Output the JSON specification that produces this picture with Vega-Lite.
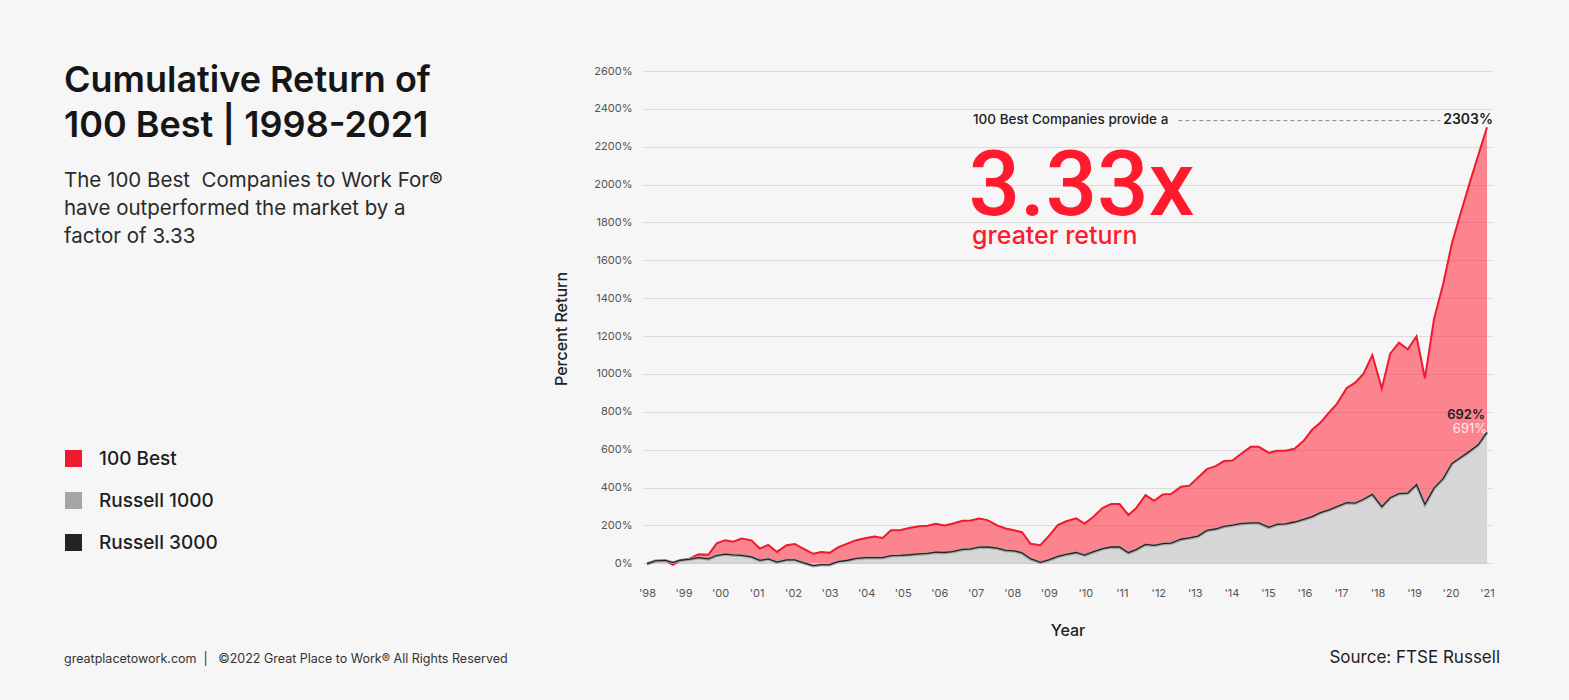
{
  "$schema": "https://vega.github.io/schema/vega-lite/v6.json",
  "width": 851,
  "height": 515,
  "autosize": {"type": "none"},
  "padding": {"left": 642, "top": 71, "right": 76, "bottom": 114},
  "background": "#f6f6f6",
  "config": {
    "view": {"stroke": null},
    "font": "Inter",
    "axis": {
      "domain": false, "ticks": false, "labelOverlap": false,
      "labelFont": "Inter", "labelFontSize": 11, "labelColor": "#555555",
      "titleFont": "Inter", "titleFontSize": 16, "titleFontWeight": 500, "titleColor": "#222222", "titlePadding": 24,
      "gridColor": "#dcdcdc", "gridWidth": 1
    },
    "axisX": {"grid": false, "labelPadding": 1},
    "axisY": {"grid": true, "labelPadding": 10}
  },
  "datasets": {
    "best": [
      {"year": 1998.00, "pct": 0}, {"year": 1998.23, "pct": 13}, {"year": 1998.50, "pct": 14}, {"year": 1998.71, "pct": -8},
      {"year": 1998.91, "pct": 14}, {"year": 1999.18, "pct": 26}, {"year": 1999.41, "pct": 47}, {"year": 1999.68, "pct": 45},
      {"year": 1999.91, "pct": 105}, {"year": 2000.14, "pct": 122}, {"year": 2000.36, "pct": 114}, {"year": 2000.59, "pct": 131},
      {"year": 2000.86, "pct": 121}, {"year": 2001.09, "pct": 78}, {"year": 2001.32, "pct": 97}, {"year": 2001.56, "pct": 60},
      {"year": 2001.82, "pct": 95}, {"year": 2002.05, "pct": 102}, {"year": 2002.27, "pct": 78}, {"year": 2002.55, "pct": 50},
      {"year": 2002.77, "pct": 60}, {"year": 2003.00, "pct": 55}, {"year": 2003.23, "pct": 84}, {"year": 2003.50, "pct": 105},
      {"year": 2003.73, "pct": 122}, {"year": 2004.00, "pct": 133}, {"year": 2004.23, "pct": 141}, {"year": 2004.45, "pct": 134},
      {"year": 2004.68, "pct": 174}, {"year": 2004.95, "pct": 176}, {"year": 2005.18, "pct": 186}, {"year": 2005.45, "pct": 195},
      {"year": 2005.68, "pct": 198}, {"year": 2005.91, "pct": 209}, {"year": 2006.14, "pct": 200}, {"year": 2006.36, "pct": 209},
      {"year": 2006.64, "pct": 224}, {"year": 2006.86, "pct": 226}, {"year": 2007.09, "pct": 236}, {"year": 2007.32, "pct": 228},
      {"year": 2007.59, "pct": 200}, {"year": 2007.82, "pct": 184}, {"year": 2008.05, "pct": 174}, {"year": 2008.27, "pct": 164},
      {"year": 2008.50, "pct": 103}, {"year": 2008.77, "pct": 95}, {"year": 2009.00, "pct": 143}, {"year": 2009.25, "pct": 202},
      {"year": 2009.48, "pct": 222}, {"year": 2009.75, "pct": 237}, {"year": 2009.98, "pct": 210}, {"year": 2010.21, "pct": 243},
      {"year": 2010.48, "pct": 293}, {"year": 2010.71, "pct": 313}, {"year": 2010.94, "pct": 313}, {"year": 2011.18, "pct": 255},
      {"year": 2011.39, "pct": 290}, {"year": 2011.65, "pct": 360}, {"year": 2011.89, "pct": 330}, {"year": 2012.12, "pct": 364},
      {"year": 2012.35, "pct": 366}, {"year": 2012.62, "pct": 404}, {"year": 2012.85, "pct": 410}, {"year": 2013.09, "pct": 453},
      {"year": 2013.33, "pct": 497}, {"year": 2013.57, "pct": 513}, {"year": 2013.80, "pct": 540}, {"year": 2014.03, "pct": 543},
      {"year": 2014.25, "pct": 576}, {"year": 2014.53, "pct": 615}, {"year": 2014.75, "pct": 615}, {"year": 2015.03, "pct": 583},
      {"year": 2015.25, "pct": 594}, {"year": 2015.48, "pct": 594}, {"year": 2015.73, "pct": 605}, {"year": 2015.98, "pct": 647},
      {"year": 2016.21, "pct": 705}, {"year": 2016.44, "pct": 743}, {"year": 2016.66, "pct": 793}, {"year": 2016.89, "pct": 842},
      {"year": 2017.16, "pct": 926}, {"year": 2017.39, "pct": 954}, {"year": 2017.62, "pct": 1002}, {"year": 2017.86, "pct": 1100},
      {"year": 2018.12, "pct": 923}, {"year": 2018.35, "pct": 1107}, {"year": 2018.59, "pct": 1165}, {"year": 2018.83, "pct": 1130},
      {"year": 2019.07, "pct": 1199}, {"year": 2019.30, "pct": 977}, {"year": 2019.55, "pct": 1290}, {"year": 2019.80, "pct": 1475},
      {"year": 2020.04, "pct": 1690}, {"year": 2020.28, "pct": 1850}, {"year": 2020.52, "pct": 2005}, {"year": 2020.76, "pct": 2155},
      {"year": 2021.00, "pct": 2303}
    ],
    "r1000": [
      {"year": 1998.00, "pct": -4}, {"year": 1998.23, "pct": 12}, {"year": 1998.50, "pct": 14}, {"year": 1998.71, "pct": 3},
      {"year": 1998.91, "pct": 15}, {"year": 1999.18, "pct": 21}, {"year": 1999.41, "pct": 29}, {"year": 1999.68, "pct": 22},
      {"year": 1999.91, "pct": 40}, {"year": 2000.14, "pct": 47}, {"year": 2000.36, "pct": 43}, {"year": 2000.59, "pct": 41},
      {"year": 2000.86, "pct": 33}, {"year": 2001.09, "pct": 14}, {"year": 2001.32, "pct": 22}, {"year": 2001.56, "pct": 5},
      {"year": 2001.82, "pct": 17}, {"year": 2002.05, "pct": 17}, {"year": 2002.27, "pct": 3}, {"year": 2002.55, "pct": -14},
      {"year": 2002.77, "pct": -9}, {"year": 2003.00, "pct": -9}, {"year": 2003.23, "pct": 7}, {"year": 2003.50, "pct": 14},
      {"year": 2003.73, "pct": 24}, {"year": 2004.00, "pct": 28}, {"year": 2004.23, "pct": 28}, {"year": 2004.45, "pct": 28},
      {"year": 2004.68, "pct": 38}, {"year": 2004.95, "pct": 40}, {"year": 2005.18, "pct": 43}, {"year": 2005.45, "pct": 48},
      {"year": 2005.68, "pct": 50}, {"year": 2005.91, "pct": 57}, {"year": 2006.14, "pct": 55}, {"year": 2006.36, "pct": 60},
      {"year": 2006.64, "pct": 71}, {"year": 2006.86, "pct": 74}, {"year": 2007.09, "pct": 83}, {"year": 2007.32, "pct": 84},
      {"year": 2007.59, "pct": 78}, {"year": 2007.82, "pct": 66}, {"year": 2008.05, "pct": 64}, {"year": 2008.27, "pct": 53},
      {"year": 2008.50, "pct": 22}, {"year": 2008.77, "pct": 3}, {"year": 2009.00, "pct": 16}, {"year": 2009.25, "pct": 34},
      {"year": 2009.48, "pct": 45}, {"year": 2009.75, "pct": 55}, {"year": 2009.98, "pct": 41}, {"year": 2010.21, "pct": 58},
      {"year": 2010.48, "pct": 76}, {"year": 2010.71, "pct": 84}, {"year": 2010.94, "pct": 84}, {"year": 2011.18, "pct": 54},
      {"year": 2011.39, "pct": 70}, {"year": 2011.65, "pct": 98}, {"year": 2011.89, "pct": 93}, {"year": 2012.12, "pct": 102},
      {"year": 2012.35, "pct": 104}, {"year": 2012.62, "pct": 125}, {"year": 2012.85, "pct": 132}, {"year": 2013.09, "pct": 142},
      {"year": 2013.33, "pct": 172}, {"year": 2013.57, "pct": 179}, {"year": 2013.80, "pct": 193}, {"year": 2014.03, "pct": 199},
      {"year": 2014.25, "pct": 207}, {"year": 2014.53, "pct": 211}, {"year": 2014.75, "pct": 211}, {"year": 2015.03, "pct": 188},
      {"year": 2015.25, "pct": 204}, {"year": 2015.48, "pct": 206}, {"year": 2015.73, "pct": 216}, {"year": 2015.98, "pct": 230},
      {"year": 2016.21, "pct": 244}, {"year": 2016.44, "pct": 265}, {"year": 2016.66, "pct": 279}, {"year": 2016.89, "pct": 297},
      {"year": 2017.16, "pct": 318}, {"year": 2017.39, "pct": 316}, {"year": 2017.62, "pct": 336}, {"year": 2017.86, "pct": 362},
      {"year": 2018.12, "pct": 297}, {"year": 2018.35, "pct": 344}, {"year": 2018.59, "pct": 366}, {"year": 2018.83, "pct": 369},
      {"year": 2019.07, "pct": 413}, {"year": 2019.30, "pct": 309}, {"year": 2019.55, "pct": 395}, {"year": 2019.80, "pct": 445},
      {"year": 2020.04, "pct": 525}, {"year": 2020.28, "pct": 557}, {"year": 2020.52, "pct": 589}, {"year": 2020.76, "pct": 624},
      {"year": 2021.00, "pct": 691}
    ],
    "r3000": [
      {"year": 1998.00, "pct": -3}, {"year": 1998.23, "pct": 13}, {"year": 1998.50, "pct": 15}, {"year": 1998.71, "pct": 4},
      {"year": 1998.91, "pct": 16}, {"year": 1999.18, "pct": 22}, {"year": 1999.41, "pct": 30}, {"year": 1999.68, "pct": 23},
      {"year": 1999.91, "pct": 41}, {"year": 2000.14, "pct": 48}, {"year": 2000.36, "pct": 44}, {"year": 2000.59, "pct": 42},
      {"year": 2000.86, "pct": 34}, {"year": 2001.09, "pct": 15}, {"year": 2001.32, "pct": 23}, {"year": 2001.56, "pct": 6},
      {"year": 2001.82, "pct": 18}, {"year": 2002.05, "pct": 18}, {"year": 2002.27, "pct": 4}, {"year": 2002.55, "pct": -12},
      {"year": 2002.77, "pct": -7}, {"year": 2003.00, "pct": -7}, {"year": 2003.23, "pct": 9}, {"year": 2003.50, "pct": 16},
      {"year": 2003.73, "pct": 26}, {"year": 2004.00, "pct": 30}, {"year": 2004.23, "pct": 30}, {"year": 2004.45, "pct": 30},
      {"year": 2004.68, "pct": 40}, {"year": 2004.95, "pct": 42}, {"year": 2005.18, "pct": 45}, {"year": 2005.45, "pct": 50},
      {"year": 2005.68, "pct": 52}, {"year": 2005.91, "pct": 59}, {"year": 2006.14, "pct": 57}, {"year": 2006.36, "pct": 62},
      {"year": 2006.64, "pct": 73}, {"year": 2006.86, "pct": 76}, {"year": 2007.09, "pct": 85}, {"year": 2007.32, "pct": 86},
      {"year": 2007.59, "pct": 80}, {"year": 2007.82, "pct": 68}, {"year": 2008.05, "pct": 66}, {"year": 2008.27, "pct": 55},
      {"year": 2008.50, "pct": 24}, {"year": 2008.77, "pct": 5}, {"year": 2009.00, "pct": 18}, {"year": 2009.25, "pct": 36},
      {"year": 2009.48, "pct": 47}, {"year": 2009.75, "pct": 57}, {"year": 2009.98, "pct": 43}, {"year": 2010.21, "pct": 60},
      {"year": 2010.48, "pct": 78}, {"year": 2010.71, "pct": 86}, {"year": 2010.94, "pct": 86}, {"year": 2011.18, "pct": 56},
      {"year": 2011.39, "pct": 72}, {"year": 2011.65, "pct": 100}, {"year": 2011.89, "pct": 95}, {"year": 2012.12, "pct": 104},
      {"year": 2012.35, "pct": 106}, {"year": 2012.62, "pct": 127}, {"year": 2012.85, "pct": 134}, {"year": 2013.09, "pct": 144},
      {"year": 2013.33, "pct": 174}, {"year": 2013.57, "pct": 181}, {"year": 2013.80, "pct": 195}, {"year": 2014.03, "pct": 201},
      {"year": 2014.25, "pct": 209}, {"year": 2014.53, "pct": 213}, {"year": 2014.75, "pct": 213}, {"year": 2015.03, "pct": 190},
      {"year": 2015.25, "pct": 206}, {"year": 2015.48, "pct": 208}, {"year": 2015.73, "pct": 218}, {"year": 2015.98, "pct": 232},
      {"year": 2016.21, "pct": 246}, {"year": 2016.44, "pct": 267}, {"year": 2016.66, "pct": 281}, {"year": 2016.89, "pct": 299},
      {"year": 2017.16, "pct": 320}, {"year": 2017.39, "pct": 318}, {"year": 2017.62, "pct": 338}, {"year": 2017.86, "pct": 364},
      {"year": 2018.12, "pct": 299}, {"year": 2018.35, "pct": 346}, {"year": 2018.59, "pct": 368}, {"year": 2018.83, "pct": 371},
      {"year": 2019.07, "pct": 415}, {"year": 2019.30, "pct": 311}, {"year": 2019.55, "pct": 397}, {"year": 2019.80, "pct": 447},
      {"year": 2020.04, "pct": 527}, {"year": 2020.28, "pct": 559}, {"year": 2020.52, "pct": 591}, {"year": 2020.76, "pct": 626},
      {"year": 2021.00, "pct": 692}
    ]
  },
  "layer": [
    {
      "data": {"name": "best"},
      "mark": {"type": "area", "color": "#ff2739", "fillOpacity": 0.55},
      "encoding": {
        "x": {"field": "year", "type": "quantitative", "scale": {"domain": [1997.863, 2021.164], "nice": false, "zero": false},
          "axis": {"values": [1998, 1999, 2000, 2001, 2002, 2003, 2004, 2005, 2006, 2007, 2008, 2009, 2010, 2011, 2012, 2013, 2014, 2015, 2016, 2017, 2018, 2019, 2020, 2021], "labelExpr": "\"'\" + substring(toString(datum.value), 2)", "title": "Year"}},
        "y": {"field": "pct", "type": "quantitative", "scale": {"domain": [-120, 2600], "nice": false, "zero": false},
          "axis": {"values": [0, 200, 400, 600, 800, 1000, 1200, 1400, 1600, 1800, 2000, 2200, 2400, 2600], "labelExpr": "datum.value + '%'", "title": "Percent Return"}},
        "y2": {"datum": 0}
      }
    },
    {
      "data": {"name": "r1000"},
      "mark": {"type": "area", "color": "#d6d6d6"},
      "encoding": {
        "x": {"field": "year", "type": "quantitative",
          "axis": {"values": [1998, 1999, 2000, 2001, 2002, 2003, 2004, 2005, 2006, 2007, 2008, 2009, 2010, 2011, 2012, 2013, 2014, 2015, 2016, 2017, 2018, 2019, 2020, 2021], "labelExpr": "\"'\" + substring(toString(datum.value), 2)", "title": "Year"}},
        "y": {"field": "pct", "type": "quantitative",
          "axis": {"values": [0, 200, 400, 600, 800, 1000, 1200, 1400, 1600, 1800, 2000, 2200, 2400, 2600], "labelExpr": "datum.value + '%'", "title": "Percent Return"}},
        "y2": {"datum": 0}
      }
    },
    {
      "data": {"name": "best"},
      "mark": {"type": "line", "strokeWidth": 2},
      "encoding": {
        "x": {"field": "year", "type": "quantitative",
          "axis": {"values": [1998, 1999, 2000, 2001, 2002, 2003, 2004, 2005, 2006, 2007, 2008, 2009, 2010, 2011, 2012, 2013, 2014, 2015, 2016, 2017, 2018, 2019, 2020, 2021], "labelExpr": "\"'\" + substring(toString(datum.value), 2)", "title": "Year"}},
        "y": {"field": "pct", "type": "quantitative",
          "axis": {"values": [0, 200, 400, 600, 800, 1000, 1200, 1400, 1600, 1800, 2000, 2200, 2400, 2600], "labelExpr": "datum.value + '%'", "title": "Percent Return"}},
        "color": {
          "datum": "100 Best",
          "scale": {"domain": ["100 Best", "Russell 1000", "Russell 3000"], "range": ["#ef1a2d", "#a5a5a5", "#242424"]},
          "legend": {
            "title": null, "orient": "none", "legendX": -578, "legendY": 378, "padding": 0,
            "symbolType": "square", "symbolSize": 289, "symbolStrokeWidth": 0,
            "labelFont": "Inter", "labelFontSize": 19, "labelFontWeight": 500, "labelColor": "#1e1e1e",
            "labelOffset": 16, "rowPadding": 22,
            "encode": {"symbols": {"update": {"fill": {"scale": "color", "field": "value"}, "fillOpacity": {"value": 1}, "opacity": {"value": 1}}}}
          }
        }
      }
    },
    {
      "data": {"name": "r1000"},
      "mark": {"type": "line", "strokeWidth": 3},
      "encoding": {
        "x": {"field": "year", "type": "quantitative",
          "axis": {"values": [1998, 1999, 2000, 2001, 2002, 2003, 2004, 2005, 2006, 2007, 2008, 2009, 2010, 2011, 2012, 2013, 2014, 2015, 2016, 2017, 2018, 2019, 2020, 2021], "labelExpr": "\"'\" + substring(toString(datum.value), 2)", "title": "Year"}},
        "y": {"field": "pct", "type": "quantitative",
          "axis": {"values": [0, 200, 400, 600, 800, 1000, 1200, 1400, 1600, 1800, 2000, 2200, 2400, 2600], "labelExpr": "datum.value + '%'", "title": "Percent Return"}},
        "color": {"datum": "Russell 1000"}
      }
    },
    {
      "data": {"name": "r3000"},
      "mark": {"type": "line", "strokeWidth": 1.3},
      "encoding": {
        "x": {"field": "year", "type": "quantitative",
          "axis": {"values": [1998, 1999, 2000, 2001, 2002, 2003, 2004, 2005, 2006, 2007, 2008, 2009, 2010, 2011, 2012, 2013, 2014, 2015, 2016, 2017, 2018, 2019, 2020, 2021], "labelExpr": "\"'\" + substring(toString(datum.value), 2)", "title": "Year"}},
        "y": {"field": "pct", "type": "quantitative",
          "axis": {"values": [0, 200, 400, 600, 800, 1000, 1200, 1400, 1600, 1800, 2000, 2200, 2400, 2600], "labelExpr": "datum.value + '%'", "title": "Percent Return"}},
        "color": {"datum": "Russell 3000"}
      }
    },
    {
      "data": {"values": [{}]},
      "mark": {"type": "text", "align": "left", "baseline": "alphabetic", "font": "Inter", "fontSize": 36, "fontWeight": 600, "color": "#161616", "lineHeight": 45},
      "encoding": {
        "x": {"datum": 1982.037, "type": "quantitative", "axis": {"values": [1998, 1999, 2000, 2001, 2002, 2003, 2004, 2005, 2006, 2007, 2008, 2009, 2010, 2011, 2012, 2013, 2014, 2015, 2016, 2017, 2018, 2019, 2020, 2021], "labelExpr": "\"'\" + substring(toString(datum.value), 2)", "title": "Year"}},
        "y": {"datum": 2490, "type": "quantitative", "axis": {"values": [0, 200, 400, 600, 800, 1000, 1200, 1400, 1600, 1800, 2000, 2200, 2400, 2600], "labelExpr": "datum.value + '%'", "title": "Percent Return"}},
        "text": {"value": ["Cumulative Return of", "100 Best | 1998-2021"]}
      }
    },
    {
      "data": {"values": [{}]},
      "mark": {"type": "text", "align": "left", "baseline": "alphabetic", "font": "Inter", "fontSize": 20.5, "fontWeight": 400, "color": "#2a2a2a", "lineHeight": 28},
      "encoding": {
        "x": {"datum": 1982.037, "type": "quantitative", "axis": {"values": [1998, 1999, 2000, 2001, 2002, 2003, 2004, 2005, 2006, 2007, 2008, 2009, 2010, 2011, 2012, 2013, 2014, 2015, 2016, 2017, 2018, 2019, 2020, 2021], "labelExpr": "\"'\" + substring(toString(datum.value), 2)", "title": "Year"}},
        "y": {"datum": 1988, "type": "quantitative", "axis": {"values": [0, 200, 400, 600, 800, 1000, 1200, 1400, 1600, 1800, 2000, 2200, 2400, 2600], "labelExpr": "datum.value + '%'", "title": "Percent Return"}},
        "text": {"value": ["The 100 Best\u00a0 Companies to Work For®", "have outperformed the market by a", "factor of 3.33"]}
      }
    },
    {
      "data": {"values": [{}]},
      "mark": {"type": "text", "align": "left", "baseline": "alphabetic", "font": "Inter", "fontSize": 12.5, "fontWeight": 400, "color": "#333333"},
      "encoding": {
        "x": {"datum": 1982.037, "type": "quantitative", "axis": {"values": [1998, 1999, 2000, 2001, 2002, 2003, 2004, 2005, 2006, 2007, 2008, 2009, 2010, 2011, 2012, 2013, 2014, 2015, 2016, 2017, 2018, 2019, 2020, 2021], "labelExpr": "\"'\" + substring(toString(datum.value), 2)", "title": "Year"}},
        "y": {"datum": -525, "type": "quantitative", "axis": {"values": [0, 200, 400, 600, 800, 1000, 1200, 1400, 1600, 1800, 2000, 2200, 2400, 2600], "labelExpr": "datum.value + '%'", "title": "Percent Return"}},
        "text": {"value": "greatplacetowork.com\u00a0 |\u00a0\u00a0 ©2022 Great Place to Work® All Rights Reserved"}
      }
    },
    {
      "data": {"values": [{}]},
      "mark": {"type": "text", "align": "right", "baseline": "alphabetic", "font": "Inter", "fontSize": 17, "fontWeight": 400, "color": "#1e1e1e"},
      "encoding": {
        "x": {"datum": 2021.356, "type": "quantitative", "axis": {"values": [1998, 1999, 2000, 2001, 2002, 2003, 2004, 2005, 2006, 2007, 2008, 2009, 2010, 2011, 2012, 2013, 2014, 2015, 2016, 2017, 2018, 2019, 2020, 2021], "labelExpr": "\"'\" + substring(toString(datum.value), 2)", "title": "Year"}},
        "y": {"datum": -525, "type": "quantitative", "axis": {"values": [0, 200, 400, 600, 800, 1000, 1200, 1400, 1600, 1800, 2000, 2200, 2400, 2600], "labelExpr": "datum.value + '%'", "title": "Percent Return"}},
        "text": {"value": "Source: FTSE Russell"}
      }
    },
    {
      "data": {"values": [{}]},
      "mark": {"type": "text", "align": "left", "baseline": "alphabetic", "font": "Inter", "fontSize": 13.5, "fontWeight": 500, "color": "#1e1e1e"},
      "encoding": {
        "x": {"datum": 2006.926, "type": "quantitative", "axis": {"values": [1998, 1999, 2000, 2001, 2002, 2003, 2004, 2005, 2006, 2007, 2008, 2009, 2010, 2011, 2012, 2013, 2014, 2015, 2016, 2017, 2018, 2019, 2020, 2021], "labelExpr": "\"'\" + substring(toString(datum.value), 2)", "title": "Year"}},
        "y": {"datum": 2321, "type": "quantitative", "axis": {"values": [0, 200, 400, 600, 800, 1000, 1200, 1400, 1600, 1800, 2000, 2200, 2400, 2600], "labelExpr": "datum.value + '%'", "title": "Percent Return"}},
        "text": {"value": "100 Best Companies provide a"}
      }
    },
    {
      "data": {"values": [{}]},
      "mark": {"type": "rule", "color": "#8a8a8a", "strokeWidth": 1, "strokeDash": [4, 3]},
      "encoding": {
        "x": {"datum": 2012.55, "type": "quantitative", "axis": {"values": [1998, 1999, 2000, 2001, 2002, 2003, 2004, 2005, 2006, 2007, 2008, 2009, 2010, 2011, 2012, 2013, 2014, 2015, 2016, 2017, 2018, 2019, 2020, 2021], "labelExpr": "\"'\" + substring(toString(datum.value), 2)", "title": "Year"}},
        "x2": {"datum": 2019.72},
        "y": {"datum": 2338, "type": "quantitative", "axis": {"values": [0, 200, 400, 600, 800, 1000, 1200, 1400, 1600, 1800, 2000, 2200, 2400, 2600], "labelExpr": "datum.value + '%'", "title": "Percent Return"}}
      }
    },
    {
      "data": {"values": [{}]},
      "mark": {"type": "text", "align": "right", "baseline": "alphabetic", "font": "Inter", "fontSize": 14, "fontWeight": 600, "color": "#1e1e1e"},
      "encoding": {
        "x": {"datum": 2021.164, "type": "quantitative", "axis": {"values": [1998, 1999, 2000, 2001, 2002, 2003, 2004, 2005, 2006, 2007, 2008, 2009, 2010, 2011, 2012, 2013, 2014, 2015, 2016, 2017, 2018, 2019, 2020, 2021], "labelExpr": "\"'\" + substring(toString(datum.value), 2)", "title": "Year"}},
        "y": {"datum": 2321, "type": "quantitative", "axis": {"values": [0, 200, 400, 600, 800, 1000, 1200, 1400, 1600, 1800, 2000, 2200, 2400, 2600], "labelExpr": "datum.value + '%'", "title": "Percent Return"}},
        "text": {"value": "2303%"}
      }
    },
    {
      "data": {"values": [{}]},
      "mark": {"type": "text", "align": "left", "baseline": "alphabetic", "font": "Roboto", "fontSize": 91, "fontWeight": 500, "color": "#ff1a2e"},
      "encoding": {
        "x": {"datum": 2006.8, "type": "quantitative", "axis": {"values": [1998, 1999, 2000, 2001, 2002, 2003, 2004, 2005, 2006, 2007, 2008, 2009, 2010, 2011, 2012, 2013, 2014, 2015, 2016, 2017, 2018, 2019, 2020, 2021], "labelExpr": "\"'\" + substring(toString(datum.value), 2)", "title": "Year"}},
        "y": {"datum": 1840.5, "type": "quantitative", "axis": {"values": [0, 200, 400, 600, 800, 1000, 1200, 1400, 1600, 1800, 2000, 2200, 2400, 2600], "labelExpr": "datum.value + '%'", "title": "Percent Return"}},
        "text": {"value": "3.33x"}
      }
    },
    {
      "data": {"values": [{}]},
      "mark": {"type": "text", "align": "left", "baseline": "alphabetic", "font": "Inter", "fontSize": 25, "fontWeight": 500, "color": "#ff1a2e"},
      "encoding": {
        "x": {"datum": 2006.9, "type": "quantitative", "axis": {"values": [1998, 1999, 2000, 2001, 2002, 2003, 2004, 2005, 2006, 2007, 2008, 2009, 2010, 2011, 2012, 2013, 2014, 2015, 2016, 2017, 2018, 2019, 2020, 2021], "labelExpr": "\"'\" + substring(toString(datum.value), 2)", "title": "Year"}},
        "y": {"datum": 1688, "type": "quantitative", "axis": {"values": [0, 200, 400, 600, 800, 1000, 1200, 1400, 1600, 1800, 2000, 2200, 2400, 2600], "labelExpr": "datum.value + '%'", "title": "Percent Return"}},
        "text": {"value": "greater return"}
      }
    },
    {
      "data": {"values": [{}]},
      "mark": {"type": "text", "align": "right", "baseline": "alphabetic", "font": "Inter", "fontSize": 13, "fontWeight": 600, "color": "#222222"},
      "encoding": {
        "x": {"datum": 2020.945, "type": "quantitative", "axis": {"values": [1998, 1999, 2000, 2001, 2002, 2003, 2004, 2005, 2006, 2007, 2008, 2009, 2010, 2011, 2012, 2013, 2014, 2015, 2016, 2017, 2018, 2019, 2020, 2021], "labelExpr": "\"'\" + substring(toString(datum.value), 2)", "title": "Year"}},
        "y": {"datum": 760, "type": "quantitative", "axis": {"values": [0, 200, 400, 600, 800, 1000, 1200, 1400, 1600, 1800, 2000, 2200, 2400, 2600], "labelExpr": "datum.value + '%'", "title": "Percent Return"}},
        "text": {"value": "692%"}
      }
    },
    {
      "data": {"values": [{}]},
      "mark": {"type": "text", "align": "right", "baseline": "alphabetic", "font": "Inter", "fontSize": 13, "fontWeight": 400, "color": "#fbeaea"},
      "encoding": {
        "x": {"datum": 2021.0, "type": "quantitative", "axis": {"values": [1998, 1999, 2000, 2001, 2002, 2003, 2004, 2005, 2006, 2007, 2008, 2009, 2010, 2011, 2012, 2013, 2014, 2015, 2016, 2017, 2018, 2019, 2020, 2021], "labelExpr": "\"'\" + substring(toString(datum.value), 2)", "title": "Year"}},
        "y": {"datum": 689, "type": "quantitative", "axis": {"values": [0, 200, 400, 600, 800, 1000, 1200, 1400, 1600, 1800, 2000, 2200, 2400, 2600], "labelExpr": "datum.value + '%'", "title": "Percent Return"}},
        "text": {"value": "691%"}
      }
    }
  ]
}
